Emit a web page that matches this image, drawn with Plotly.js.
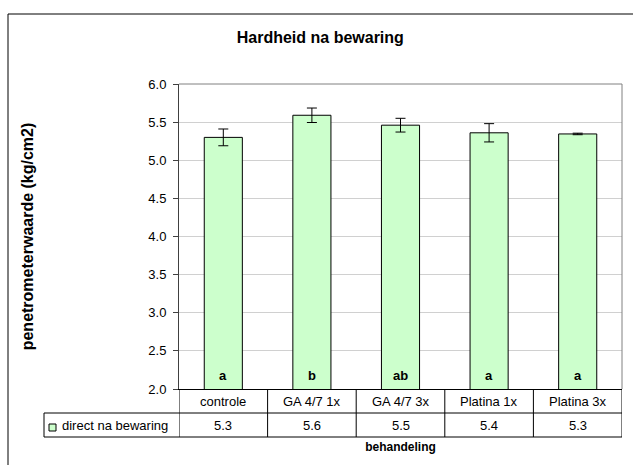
<!DOCTYPE html>
<html>
<head>
<meta charset="utf-8">
<script src="https://cdn.plot.ly/plotly-3.0.1.min.js"></script>
<style>html,body{margin:0;padding:0;background:#fff;}#chart{width:633px;height:465px;}</style>
</head>
<body>
<div id="chart"></div>
<script>
const categories = ["controle", "GA 4/7 1x", "GA 4/7 3x", "Platina 1x", "Platina 3x"];
const values = [5.30, 5.59, 5.46, 5.36, 5.345];
const errors = [0.11, 0.095, 0.09, 0.12, 0.01];
const letters = ["a", "b", "ab", "a", "a"];
const tableValues = ["5.3", "5.6", "5.5", "5.4", "5.3"];
const seriesName = "direct na bewaring";
const yTicks = [2.0, 2.5, 3.0, 3.5, 4.0, 4.5, 5.0, 5.5, 6.0];

const W = 633, H = 465;
const L = 179, R = 622, T = 84, B = 389;
const px = x => (x - L) / (R - L);
const py = y => (B - y) / (B - T);
const font = "Liberation Sans, Arial, sans-serif";

const trace = {
  type: "bar",
  x: categories,
  y: values,
  base: 0,
  width: 0.43,
  marker: {color: "#CCFFCC", line: {color: "#000", width: 1}},
  error_y: {type: "data", array: errors, visible: true, color: "#000", thickness: 1, width: 5},
  hoverinfo: "skip",
  showlegend: false
};

const shapes = [];
// outer frame
shapes.push({type: "rect", xref: "paper", yref: "paper", x0: px(8), x1: px(680), y0: py(14), y1: py(500), line: {color: "#000", width: 1}});
// plot area top/right border
shapes.push({type: "line", xref: "paper", yref: "paper", x0: 0, x1: 1, y0: 1, y1: 1, line: {color: "#808080", width: 1}});
shapes.push({type: "line", xref: "paper", yref: "paper", x0: 1, x1: 1, y0: 0, y1: 1, line: {color: "#808080", width: 1}});
// table lines
shapes.push({type: "line", xref: "paper", yref: "paper", x0: px(44), x1: 1, y0: py(413), y1: py(413), line: {color: "#000", width: 1}});
shapes.push({type: "line", xref: "paper", yref: "paper", x0: px(44), x1: 1, y0: py(437), y1: py(437), line: {color: "#000", width: 1}});
shapes.push({type: "line", xref: "paper", yref: "paper", x0: px(44), x1: px(44), y0: py(413), y1: py(437), line: {color: "#000", width: 1}});
for (let i = 0; i <= categories.length; i++) {
  shapes.push({type: "line", xref: "x", yref: "paper", x0: i - 0.5, x1: i - 0.5, y0: py(389), y1: py(437), line: {color: "#000", width: 1}});
}
// legend key
shapes.push({type: "rect", xref: "paper", yref: "paper", x0: px(49), x1: px(56), y0: py(424), y1: py(431), fillcolor: "#CCFFCC", line: {color: "#000", width: 1}});

const annotations = [];
categories.forEach((c, i) => {
  annotations.push({x: c, y: py(401), xref: "x", yref: "paper", text: c, showarrow: false, font: {family: font, size: 13, color: "#000"}, xanchor: "center", yanchor: "middle"});
  annotations.push({x: c, y: py(425), xref: "x", yref: "paper", text: tableValues[i], showarrow: false, font: {family: font, size: 13, color: "#000"}, xanchor: "center", yanchor: "middle"});
  annotations.push({x: c, y: 2.18, xref: "x", yref: "y", text: "<b>" + letters[i] + "</b>", showarrow: false, font: {family: font, size: 13, color: "#000"}, xanchor: "center", yanchor: "middle"});
});
annotations.push({x: px(60), y: py(425), xref: "paper", yref: "paper", text: seriesName, showarrow: false, font: {family: font, size: 13, color: "#000"}, xanchor: "left", yanchor: "middle"});

const layout = {
  width: W, height: H,
  margin: {l: L, r: W - R, t: T, b: H - B, pad: 0},
  paper_bgcolor: "#fff", plot_bgcolor: "#fff",
  title: {text: "<b>Hardheid na bewaring</b>", font: {family: font, size: 16, color: "#000"}, x: 0.506, xanchor: "center", y: 1 - 37 / H, yanchor: "middle"},
  xaxis: {
    type: "category", range: [-0.5, 4.5], showticklabels: false, ticks: "", showgrid: false, zeroline: false,
    showline: true, linecolor: "#000", linewidth: 1,
    title: {text: "<b>behandeling</b>", font: {family: font, size: 12, color: "#000"}, standoff: 53}
  },
  yaxis: {
    range: [2, 6], tickvals: yTicks, ticktext: yTicks.map(v => v.toFixed(1)),
    ticks: "outside", ticklen: 5, tickcolor: "#404040", ticklabelstandoff: 4,
    tickfont: {family: font, size: 13, color: "#000"},
    showline: true, linecolor: "#404040", linewidth: 1,
    showgrid: true, gridcolor: "#d0d0d0", gridwidth: 1, zeroline: false,
    title: {text: "<b>penetrometerwaarde (kg/cm2)</b>", font: {family: font, size: 16, color: "#000"}, standoff: 110}
  },
  shapes: shapes,
  annotations: annotations,
  bargap: 0.57
};

Plotly.newPlot("chart", [trace], layout, {displayModeBar: false, staticPlot: true});
</script>
</body>
</html>
